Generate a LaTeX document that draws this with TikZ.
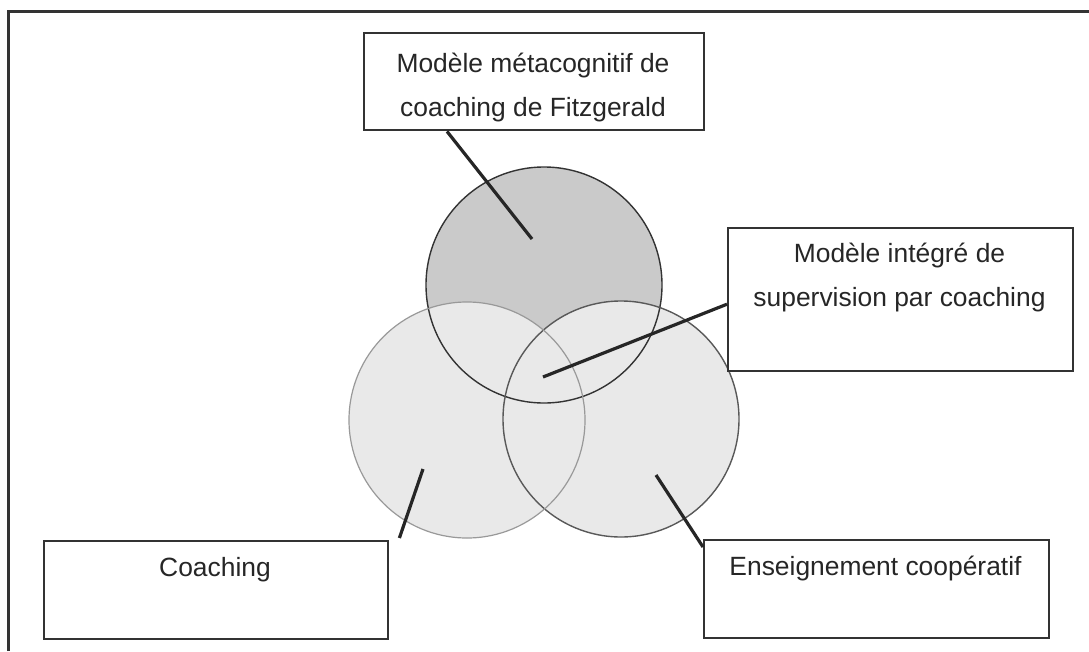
\documentclass[tikz,border=0pt]{standalone}
\usepackage{fontspec}
\setmainfont{Liberation Sans}
\usetikzlibrary{calc}
\definecolor{linec}{HTML}{333333}
\definecolor{topfill}{HTML}{CACACA}
\definecolor{lowfill}{HTML}{E9E9E9}
\tikzset{
  tbox/.style={draw=linec, line width=2.4pt, fill=white, inner sep=0pt},
  ttext/.style={inner sep=0pt, align=center, anchor=base, font=\fontsize{26.4}{44}\selectfont, text=black!85},
  conn/.style={draw=black!85, line width=3.2pt},
  venn/.style={inner sep=0pt, minimum size=236pt, circle}
}
\begin{document}
\begin{tikzpicture}[x=1pt, y=-1pt]
\useasboundingbox (0,0) rectangle (1089,651);
% frame
\draw[linec, line width=3pt] (8,651) -- (8,11) -- (1089,11);
% circles
\node[venn, fill=topfill] (ctop) at (544,285) {};
\node[venn, fill=lowfill] (cleft) at (467,420) {};
\node[venn, fill=lowfill] (cright) at (621,419) {};
\draw[black!80, line width=1.4pt] (ctop.center) circle[radius=118pt];
\draw[black!65, line width=1.4pt] (cright.center) circle[radius=118pt];
\draw[black!40, line width=1.2pt] (cleft.center) circle[radius=118pt];
% boxes
\node[tbox, minimum width=340pt, minimum height=97pt, anchor=north west] (tb) at (363,32) {};
\node[tbox, minimum width=345pt, minimum height=143pt, anchor=north west] (rb) at (727,227) {};
\node[tbox, minimum width=344pt, minimum height=98pt, anchor=north west] (cb) at (43,540) {};
\node[tbox, minimum width=345pt, minimum height=98pt, anchor=north west] (eb) at (703,539) {};
% texts (base anchor = baseline of the last line)
\node[ttext] (tt) at (533,116) {Modèle métacognitif de\\coaching de Fitzgerald};
\node[ttext] (rt) at (899.5,306) {Modèle intégré de\\supervision par coaching};
\node[ttext] (ct) at (215,576) {Coaching};
\node[ttext] (et) at (875.5,575) {Enseignement coopératif};
% connector ends
\coordinate (p1) at (532,239);
\coordinate (p2) at (543,377);
\coordinate (p3) at (423,469);
\coordinate (p4) at (656,475);
\draw[conn] ([xshift=84pt]tb.south west) -- (p1);
\draw[conn] ([yshift=-4.5pt]rb.west) -- (p2);
\draw[conn] ([xshift=10pt,yshift=2pt]cb.north east) -- (p3);
\draw[conn] ([yshift=-8pt]eb.north west) -- (p4);
\end{tikzpicture}
\end{document}
